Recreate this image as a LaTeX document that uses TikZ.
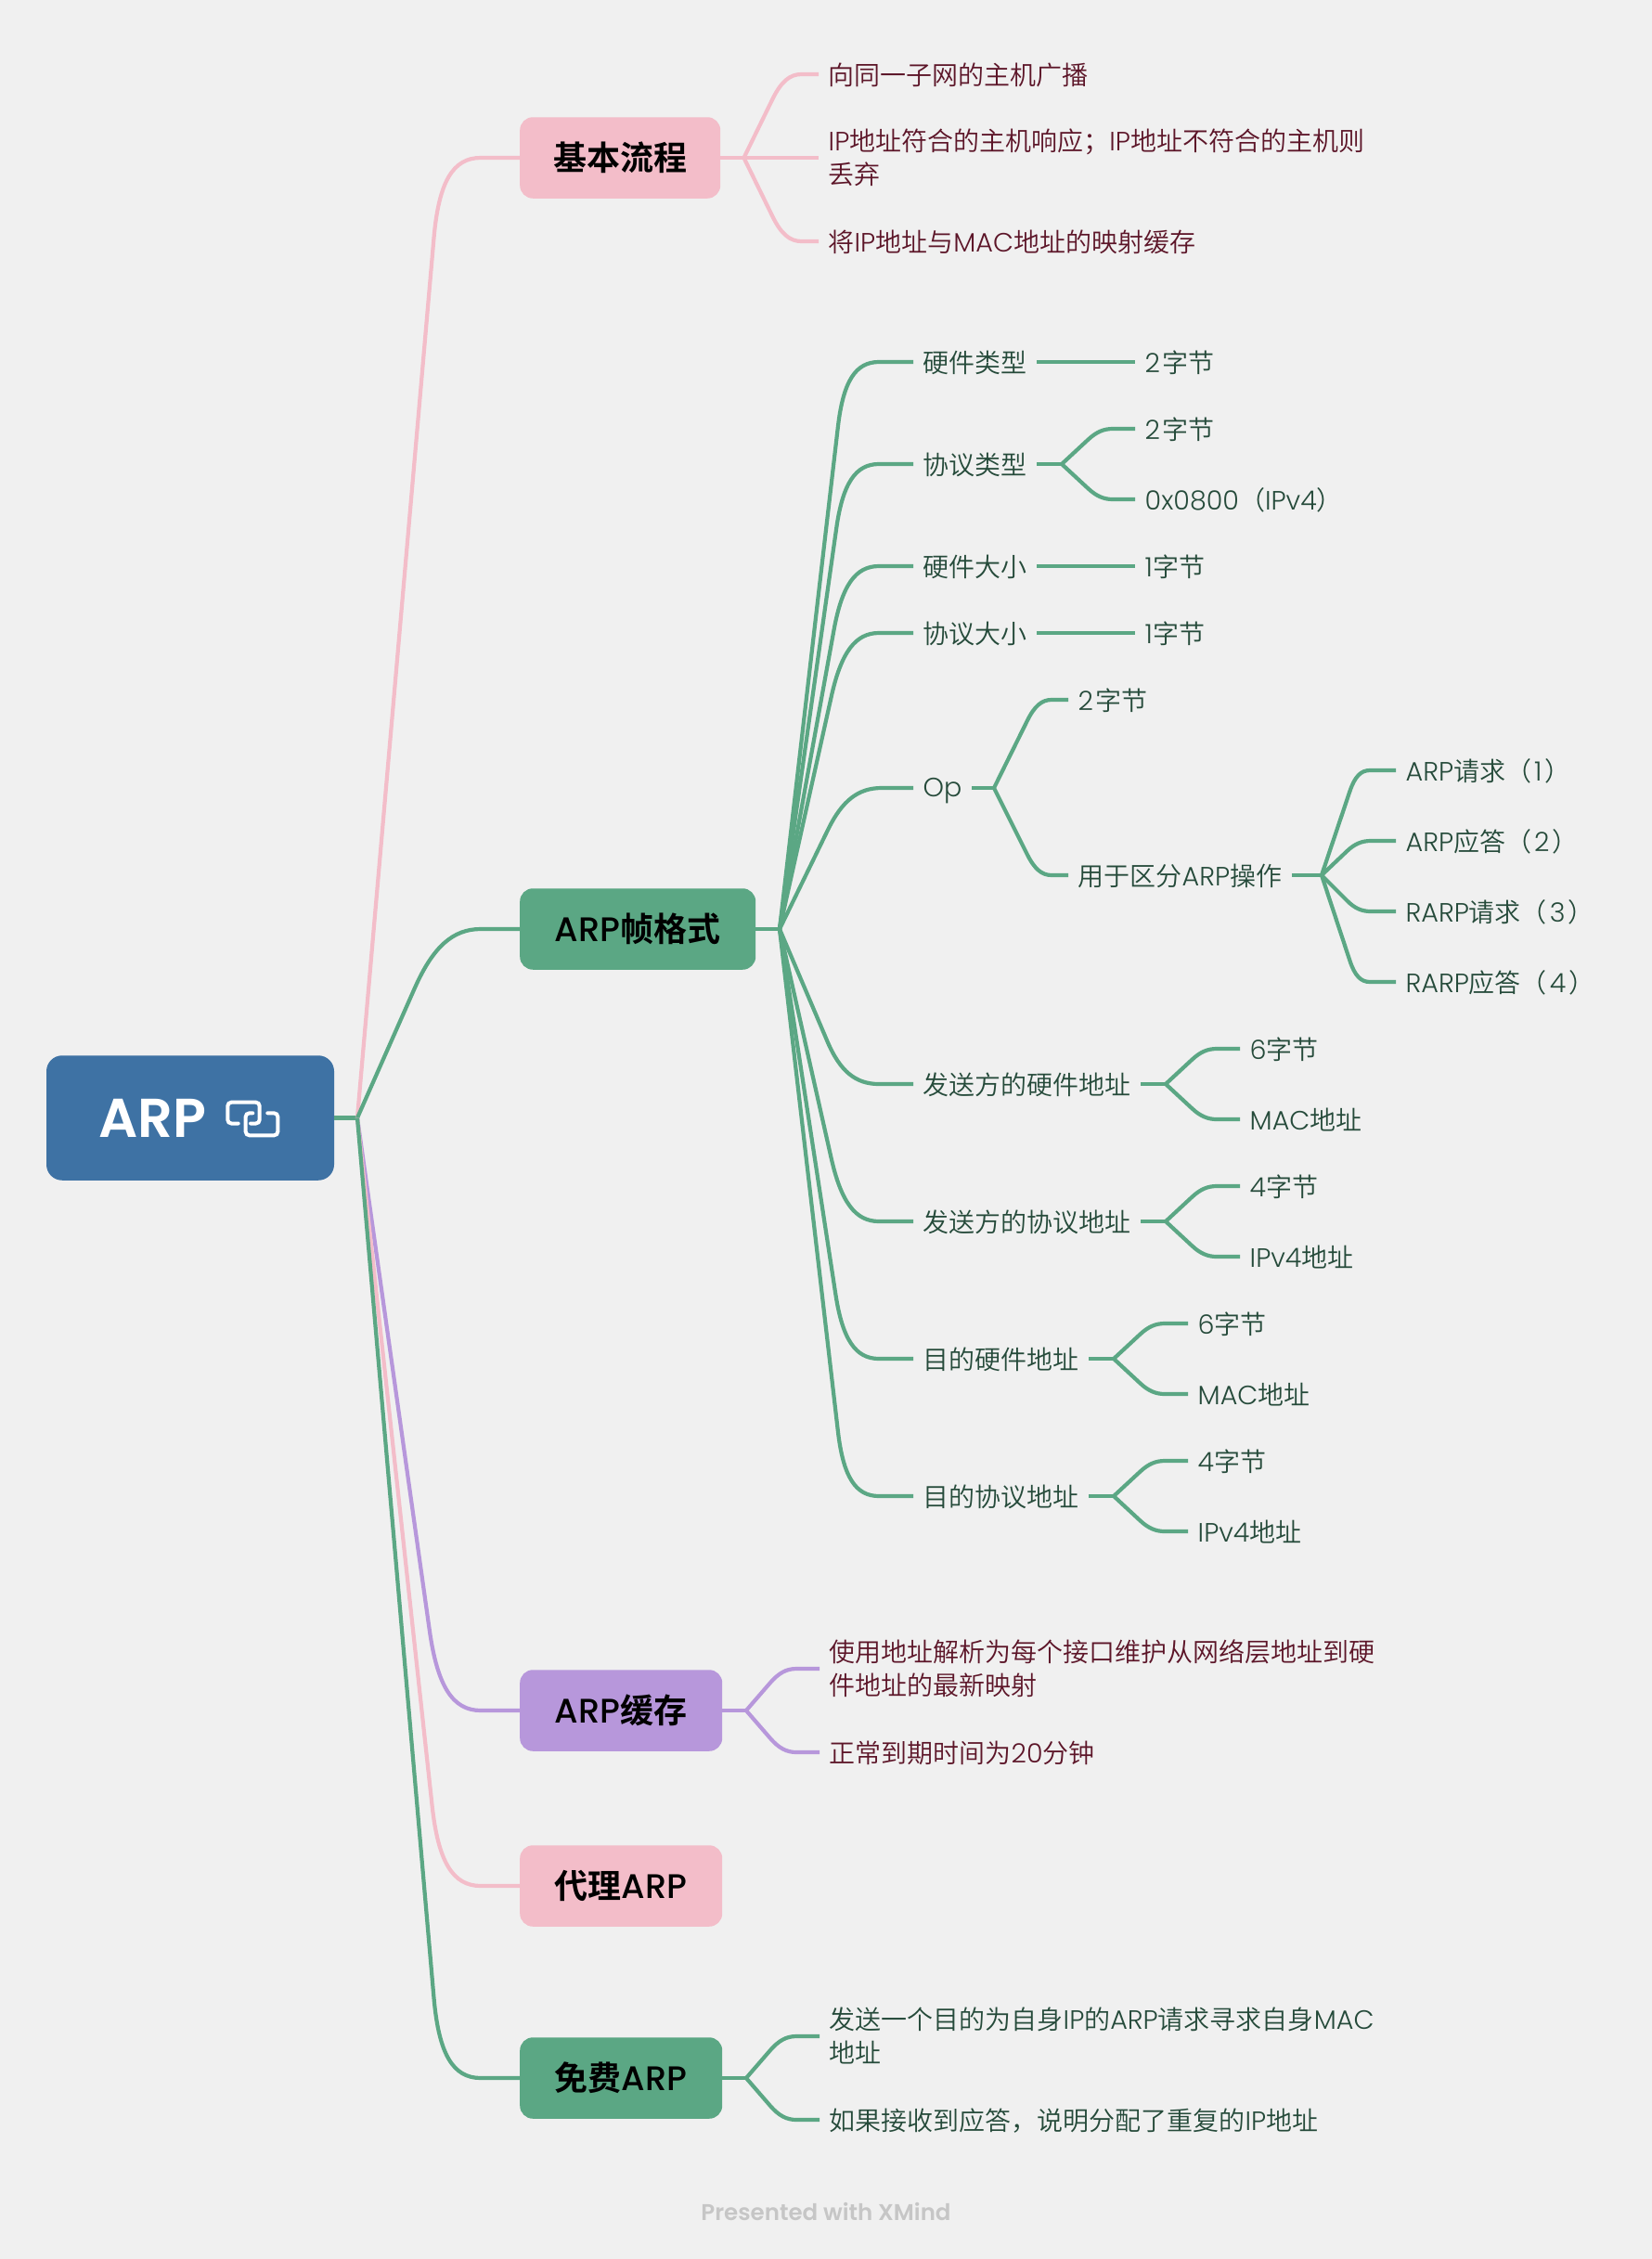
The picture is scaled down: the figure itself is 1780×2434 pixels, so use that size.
\documentclass[tikz,border=0pt]{standalone}
\usepackage{fontspec}
\usetikzlibrary{calc}
\setmainfont{Noto Sans CJK SC}[UprightFont=* DemiLight,BoldFont=* Bold]
\newfontfamily\latf[Scale=1.02,UprightFont=* Light,BoldFont=* Medium]{Poppins}
\newfontfamily\latb[UprightFont=* Medium,BoldFont=* SemiBold]{Poppins}
\newcommand\Lt[1]{{\latf #1}}
\definecolor{bgc}{HTML}{F0F0F0}
\definecolor{rootc}{HTML}{3E72A4}
\definecolor{greenc}{HTML}{5BA784}
\definecolor{pinkc}{HTML}{F3BDC9}
\definecolor{purplec}{HTML}{B797DB}
\definecolor{txtg}{HTML}{254A3A}
\definecolor{txtm}{HTML}{5C1528}
\definecolor{footc}{HTML}{C6C6C6}
\newcommand\mystrut{\vrule height 25.5pt depth 2.5pt width 0pt\relax}
\tikzset{
  x=1pt,y=-1pt,
  leaf/.style={anchor=west,inner xsep=10.5pt,inner ysep=0pt,align=left,
    font=\fontsize{28}{36}\selectfont,
    execute at begin node=\mystrut,execute at end node=\mystrut},
  leafg/.style={leaf,text=txtg},
  leafm/.style={leaf,text=txtm},
  topicbox/.style={anchor=west,rounded corners=14pt,inner sep=0pt,minimum height=87.5pt,
    text=black,font=\fontsize{36}{44}\selectfont\bfseries},
  rootbox/.style={rounded corners=17pt,inner sep=0pt,fill=rootc,minimum width=310pt,minimum height=134.5pt,
    text=white,font=\fontsize{59}{66}\selectfont\bfseries},
  lg/.style={draw=greenc,line width=4.2pt,line join=round},
  lp/.style={draw=pinkc,line width=4.2pt,line join=round},
  lu/.style={draw=purplec,line width=4.2pt,line join=round},
  iconline/.style={draw=white,line width=4pt,rounded corners=4pt,line cap=round},
}
% style, hub, target node, corner dx, r1, r2
\newcommand\conn[6]{%
  \coordinate (tmpA) at ($(#2)+(#4,0)$);
  \coordinate (tmpC) at (tmpA |- #3.west);
  \coordinate (tmpP) at ($(tmpC)!#5pt!(#2)$);
  \coordinate (tmpQ) at ($(tmpC)+(#6,0)$);
  \draw[#1] (#2) -- (tmpP) .. controls ($(tmpP)!.7!(tmpC)$) and ($(tmpQ)!.7!(tmpC)$) .. (tmpQ) -- (#3.west);
}
\begin{document}
\begin{tikzpicture}
\useasboundingbox (0,0) rectangle (1780,2434);
\fill[bgc] (0,0) rectangle (1780,2434);

% root
\node[rootbox] (root) at (205,1204.5) {\mbox{{\latb ARP}\hspace{81pt}}};
\draw[iconline] (256.7,1210.5) -- (245.3,1210.5) -- (245.3,1187.7) -- (279.7,1187.7) -- (279.7,1210.5) -- (270,1210.5);
\draw[iconline] (272.3,1199.3) -- (264.7,1199.3) -- (264.7,1223.3) -- (299.3,1223.3) -- (299.3,1199.3) -- (288.3,1199.3);

% topics
\node[topicbox,fill=pinkc,minimum width=216pt] (t1) at (560,170) {基本流程};
\node[topicbox,fill=greenc,minimum width=254pt] (t2) at (560,1001) {\Lt{ARP}帧格式};
\node[topicbox,fill=purplec,minimum width=218pt] (t3) at (560,1843) {\Lt{ARP}缓存};
\node[topicbox,fill=pinkc,minimum width=218pt] (t4) at (560,2032) {代理\Lt{ARP}};
\node[topicbox,fill=greenc,minimum width=218pt] (t5) at (560,2239) {免费\Lt{ARP}};

\coordinate (hr) at (385,1204.5);
\draw[lg] (root.east) -- (hr);
\conn{lp}{hr}{t1}{90}{87}{43}
\conn{lg}{hr}{t2}{90}{70}{43}
\conn{lu}{hr}{t3}{90}{87}{43}
\conn{lp}{hr}{t4}{90}{87}{43}
\conn{lg}{hr}{t5}{90}{87}{43}

% basic flow
\coordinate (h1) at (801.5,170);
\node[leafm] (a1) at (882,80) {向同一子网的主机广播};
\node[leafm] (a2) at (882,170) {\Lt{IP}地址符合的主机响应；\Lt{IP}地址不符合的主机则\\丢弃};
\node[leafm] (a3) at (882,260) {将\Lt{IP}地址与\Lt{MAC}地址的映射缓存};
\draw[lp] (t1.east) -- (h1);
\conn{lp}{h1}{a1}{44}{30}{18}
\draw[lp] (h1) -- (a2.west);
\conn{lp}{h1}{a3}{44}{30}{18}

% frame format
\coordinate (h2) at (840,1001);
\draw[lg] (t2.east) -- (h2);
\node[leafg] (b1) at (984,390) {硬件类型};
\node[leafg] (b2) at (984,500) {协议类型};
\node[leafg] (b3) at (984,610) {硬件大小};
\node[leafg] (b4) at (984,682) {协议大小};
\node[leafg] (b5) at (984,849) {\Lt{Op}};
\node[leafg] (b6) at (984,1168) {发送方的硬件地址};
\node[leafg] (b7) at (984,1316) {发送方的协议地址};
\node[leafg] (b8) at (984,1464) {目的硬件地址};
\node[leafg] (b9) at (984,1612) {目的协议地址};
\conn{lg}{h2}{b1}{71}{70}{36}
\conn{lg}{h2}{b2}{71}{70}{36}
\conn{lg}{h2}{b3}{71}{70}{36}
\conn{lg}{h2}{b4}{71}{70}{36}
\conn{lg}{h2}{b5}{74}{50}{36}
\conn{lg}{h2}{b6}{71}{50}{36}
\conn{lg}{h2}{b7}{71}{70}{36}
\conn{lg}{h2}{b8}{71}{70}{36}
\conn{lg}{h2}{b9}{71}{70}{36}

% hardware type
\node[leafg] (c1) at (1223,390) {\Lt{2}\kern2pt 字节};
\draw[lg] (b1.east) -- (c1.west);
% protocol type
\coordinate (h3) at (1144,500);
\node[leafg] (c2) at (1223,462) {\Lt{2}\kern2pt 字节};
\node[leafg] (c3) at (1223,538) {\Lt{0x0800}（\Lt{IPv4}）};
\draw[lg] (b2.east) -- (h3);
\conn{lg}{h3}{c2}{41}{17}{14}
\conn{lg}{h3}{c3}{41}{17}{14}
% sizes
\node[leafg] (c4) at (1223,610) {\Lt{1}字节};
\draw[lg] (b3.east) -- (c4.west);
\node[leafg] (c5) at (1223,682) {\Lt{1}字节};
\draw[lg] (b4.east) -- (c5.west);
% op
\coordinate (h4) at (1071,849);
\node[leafg] (d1) at (1151,754) {\Lt{2}\kern2pt 字节};
\node[leafg] (d2) at (1151,943) {用于区分\Lt{ARP}操作};
\draw[lg] (b5.east) -- (h4);
\conn{lg}{h4}{d1}{47}{25}{15}
\conn{lg}{h4}{d2}{47}{25}{15}
\coordinate (h5) at (1424,943);
\node[leafg] (e1) at (1504,830) {\Lt{ARP}请求（\kern3pt\Lt{1}\kern3pt）};
\node[leafg] (e2) at (1504,906) {\Lt{ARP}应答（\kern3pt\Lt{2}\kern3pt）};
\node[leafg] (e3) at (1504,982) {\Lt{RARP}请求（\kern3pt\Lt{3}\kern3pt）};
\node[leafg] (e4) at (1504,1058) {\Lt{RARP}应答（\kern3pt\Lt{4}\kern3pt）};
\draw[lg] (d2.east) -- (h5);
\conn{lg}{h5}{e1}{38}{24}{14}
\conn{lg}{h5}{e2}{39}{16}{14}
\conn{lg}{h5}{e3}{39}{16}{14}
\conn{lg}{h5}{e4}{38}{24}{14}
% sender hw
\coordinate (h6) at (1256,1168);
\node[leafg] (f1) at (1336,1130) {\Lt{6}字节};
\node[leafg] (f2) at (1336,1206) {\Lt{MAC}地址};
\draw[lg] (b6.east) -- (h6);
\conn{lg}{h6}{f1}{41}{17}{14}
\conn{lg}{h6}{f2}{41}{17}{14}
% sender proto
\coordinate (h7) at (1256,1316);
\node[leafg] (f3) at (1336,1278) {\Lt{4}字节};
\node[leafg] (f4) at (1336,1354) {\Lt{IPv4}地址};
\draw[lg] (b7.east) -- (h7);
\conn{lg}{h7}{f3}{41}{17}{14}
\conn{lg}{h7}{f4}{41}{17}{14}
% target hw
\coordinate (h8) at (1200,1464);
\node[leafg] (g1) at (1280,1426) {\Lt{6}字节};
\node[leafg] (g2) at (1280,1502) {\Lt{MAC}地址};
\draw[lg] (b8.east) -- (h8);
\conn{lg}{h8}{g1}{41}{17}{14}
\conn{lg}{h8}{g2}{41}{17}{14}
% target proto
\coordinate (h9) at (1200,1612);
\node[leafg] (g3) at (1280,1574) {\Lt{4}字节};
\node[leafg] (g4) at (1280,1650) {\Lt{IPv4}地址};
\draw[lg] (b9.east) -- (h9);
\conn{lg}{h9}{g3}{41}{17}{14}
\conn{lg}{h9}{g4}{41}{17}{14}

% cache
\coordinate (h10) at (804,1843);
\node[leafm] (k1) at (883,1798) {使用地址解析为每个接口维护从网络层地址到硬\\件地址的最新映射};
\node[leafm] (k2) at (883,1888) {正常到期时间为\Lt{20}分钟};
\draw[lu] (t3.east) -- (h10);
\conn{lu}{h10}{k1}{39}{20}{15}
\conn{lu}{h10}{k2}{39}{20}{15}

% gratuitous
\coordinate (h11) at (804,2239);
\node[leafg] (m1) at (883,2194) {发送一个目的为自身\Lt{IP}的\Lt{ARP}请求寻求自身\Lt{MAC}\\地址};
\node[leafg] (m2) at (883,2284) {如果接收到应答，说明分配了重复的\Lt{IP}地址};
\draw[lg] (t5.east) -- (h11);
\conn{lg}{h11}{m1}{39}{20}{15}
\conn{lg}{h11}{m2}{39}{20}{15}

\node[text=footc,font=\fontsize{24.5}{28}\selectfont\bfseries] (foot) at (890,2383) {{\latb Presented with XMind}};
\end{tikzpicture}
\end{document}
